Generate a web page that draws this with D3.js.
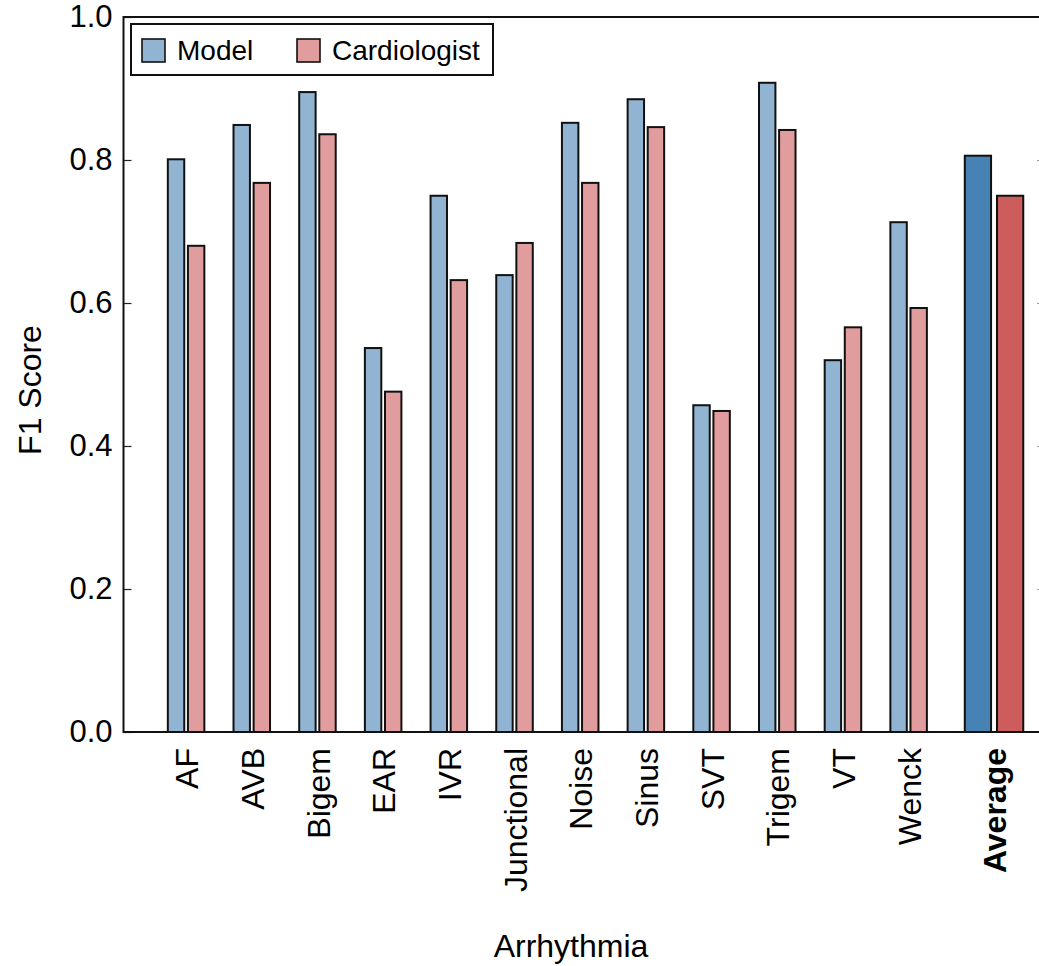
<!DOCTYPE html>
<html>
<head>
<meta charset="utf-8">
<script src="https://cdn.jsdelivr.net/npm/d3@7"></script>
<style>
  body { margin: 0; background: #fff; }
  svg { display: block; font-family: "Liberation Sans", Arial, Helvetica, sans-serif; }
</style>
</head>
<body>
<div id="chart"></div>
<script>
// chart data
const categories = ["AF", "AVB", "Bigem", "EAR", "IVR", "Junctional", "Noise", "Sinus", "SVT", "Trigem", "VT", "Wenck", "Average"];
const modelScores = [0.801, 0.849, 0.895, 0.537, 0.750, 0.639, 0.852, 0.885, 0.457, 0.908, 0.520, 0.713, 0.806];
const cardiologistScores = [0.680, 0.768, 0.836, 0.476, 0.632, 0.684, 0.768, 0.846, 0.449, 0.842, 0.566, 0.593, 0.750];
const seriesNames = ["Model", "Cardiologist"];
const yTicks = [0, 0.2, 0.4, 0.6, 0.8, 1.0];

const W = 1039, H = 966;
const plotLeft = 123.5, plotTop = 17, plotBottom = 732, plotRight = 1041;

const svg = d3.select("#chart").append("svg")
    .attr("width", W)
    .attr("height", H);

// x is a linear position scale: groups at 1..12, the average pushed a bit further right
const x = d3.scaleLinear().domain([0, 14]).range([120.4, 1040]);
const pos = (d, i) => i < categories.length - 1 ? i + 1 : i + 1.3;

const y = d3.scaleLinear().domain([0, 1]).range([plotBottom, plotTop]);

const colLight = ["#90b4d2", "#e19d9d"];
const colDark = ["#4682b4", "#cd5c5c"];

const rows = categories.map((c, i) => ({
    name: c, p: pos(c, i), avg: i === categories.length - 1,
    vals: [modelScores[i], cardiologistScores[i]]
}));

// bars
const g = svg.append("g");
rows.forEach(r => {
    const half = r.avg ? 0.4 : 0.25;
    const gap = r.avg ? 0.045 : 0.028;
    r.vals.forEach((v, k) => {
        const x0 = k === 0 ? r.p - gap - half : r.p + gap;
        g.append("rect")
            .attr("x", x(x0))
            .attr("width", x(x0 + half) - x(x0))
            .attr("y", y(v))
            .attr("height", y(0) - y(v))
            .attr("fill", r.avg ? colDark[k] : colLight[k])
            .attr("stroke", "#111")
            .attr("stroke-width", 2);
    });
});

// y axis (ticks point inward)
const yAxis = svg.append("g")
    .attr("transform", `translate(${plotLeft},0)`)
    .call(d3.axisLeft(y).tickValues(yTicks).tickFormat(d3.format(".1f")).tickSize(-8).tickPadding(11));
yAxis.select(".domain").remove();
yAxis.selectAll(".tick line").attr("stroke", "#222").attr("stroke-width", 1.2);
yAxis.selectAll("text").attr("font-size", 31).attr("fill", "#000")
    .attr("font-family", "'Liberation Sans', Arial, Helvetica, sans-serif");

// faint right-side ticks
const yAxisR = svg.append("g")
    .attr("transform", `translate(${plotRight},0)`)
    .call(d3.axisRight(y).tickValues(yTicks).tickSize(-4).tickFormat(""));
yAxisR.select(".domain").remove();
yAxisR.selectAll(".tick line").attr("stroke", "#999").attr("stroke-width", 1);

// frame lines
svg.append("line").attr("x1", plotLeft).attr("x2", plotLeft).attr("y1", plotTop - 1).attr("y2", plotBottom + 1)
    .attr("stroke", "#111").attr("stroke-width", 2);
svg.append("line").attr("x1", plotLeft).attr("x2", W).attr("y1", plotTop).attr("y2", plotTop)
    .attr("stroke", "#111").attr("stroke-width", 2);
svg.append("line").attr("x1", plotLeft).attr("x2", W).attr("y1", plotBottom).attr("y2", plotBottom)
    .attr("stroke", "#111").attr("stroke-width", 2);

// x tick labels, rotated
svg.append("g").selectAll("text")
    .data(rows)
    .join("text")
    .attr("transform", d => `translate(${x(d.p) + 1},748) rotate(-90)`)
    .attr("text-anchor", "end")
    .attr("dy", "0.35em")
    .attr("font-size", 32)
    .attr("font-weight", d => d.avg ? "bold" : "normal")
    .text(d => d.name);

// axis titles
svg.append("text")
    .attr("x", 571).attr("y", 957)
    .attr("text-anchor", "middle")
    .attr("font-size", 32)
    .text("Arrhythmia");
svg.append("text")
    .attr("transform", "translate(41,390) rotate(-90)")
    .attr("text-anchor", "middle")
    .attr("font-size", 32)
    .text("F1 Score");

// legend
const lg = svg.append("g");
lg.append("rect")
    .attr("x", 131).attr("y", 24).attr("width", 362).attr("height", 51)
    .attr("fill", "#fff").attr("stroke", "#111").attr("stroke-width", 2);
const legendX = [142, 297];
seriesNames.forEach((s, k) => {
    lg.append("rect")
        .attr("x", legendX[k]).attr("y", 39).attr("width", 23).attr("height", 23)
        .attr("fill", colLight[k]).attr("stroke", "#111").attr("stroke-width", 1.6);
    lg.append("text")
        .attr("x", legendX[k] + 35).attr("y", 60)
        .attr("font-size", 28)
        .text(s);
});
</script>
</body>
</html>
